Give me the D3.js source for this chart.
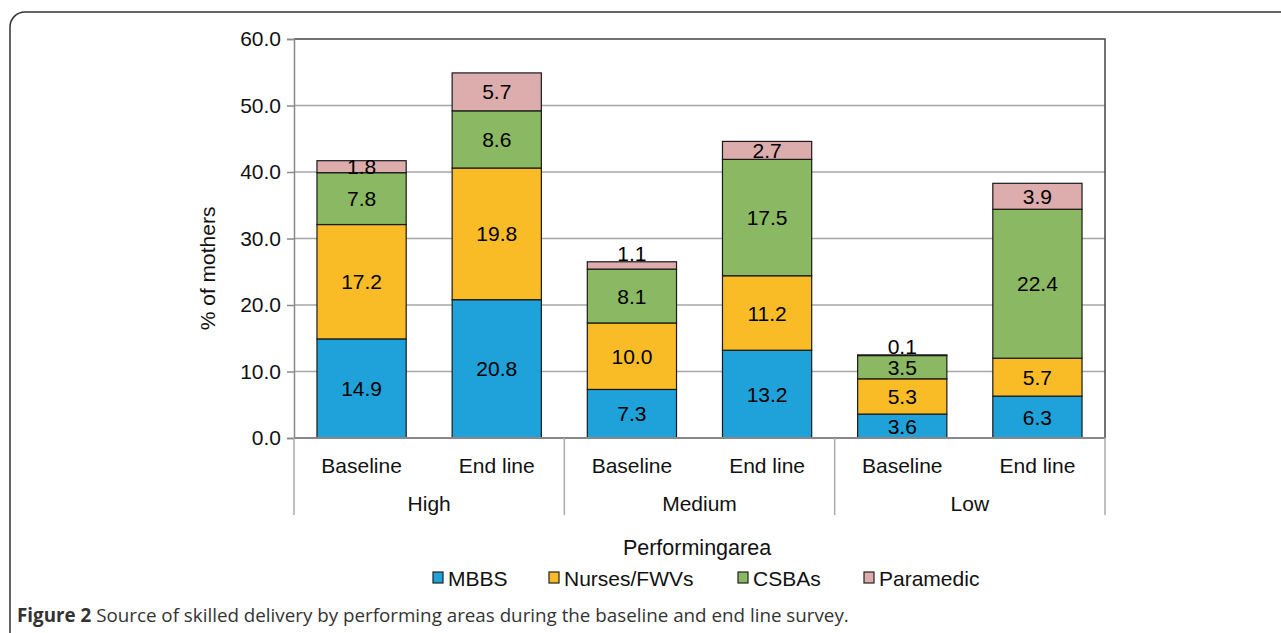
<!DOCTYPE html>
<html>
<head>
<meta charset="utf-8">
<script src="https://cdn.jsdelivr.net/npm/d3@7"></script>
<style>
  body { margin: 0; background: #fff; }
  svg { display: block; font-family: "Liberation Sans", Arial, sans-serif; }
</style>
</head>
<body>
<svg id="chart" width="1281" height="633"></svg>
<script>
"use strict"
// Data
var groups = ["High", "Medium", "Low"];
var surveys = ["Baseline", "End line"];
var seriesNames = ["MBBS", "Nurses/FWVs", "CSBAs", "Paramedic"];
var colors = ["#1fa1d9", "#f9bc26", "#8bb862", "#ddadad"];
var mbbs      = [14.9, 20.8, 7.3, 13.2, 3.6, 6.3];
var nurses    = [17.2, 19.8, 10.0, 11.2, 5.3, 5.7];
var csbas     = [7.8, 8.6, 8.1, 17.5, 3.5, 22.4];
var paramedic = [1.8, 5.7, 1.1, 2.7, 0.1, 3.9];
var yTicks = [0, 10, 20, 30, 40, 50, 60];

var margin = {top: 39, left: 294, right: 176, bottom: 195};
var width = 1281, height = 633;
var drawWidth = width - margin.left - margin.right;   // 811
var drawHeight = height - margin.top - margin.bottom; // 399
var fontSize = 21;

var svg = d3.select("#chart");

// rounded frame of the figure, running off the page to the right and bottom
svg.append("rect")
  .attr("x", 10).attr("y", 12)
  .attr("width", 1400).attr("height", 700)
  .attr("rx", 15)
  .attr("fill", "none")
  .attr("stroke", "#333")
  .attr("stroke-width", 1.5);

// build rows
var rows = [];
groups.forEach(function(g, gi) {
  surveys.forEach(function(s, si) {
    var i = gi * 2 + si;
    rows.push({key: g + "|" + s, group: g, survey: s,
      values: [mbbs[i], nurses[i], csbas[i], paramedic[i]]});
  });
});

var xScale = d3.scaleBand().domain(rows.map(function(d){return d.key})).range([0, drawWidth]).paddingInner(0.34).paddingOuter(0.17);
var groupScale = d3.scaleBand().domain(groups).range([0, drawWidth]);
var yScale = d3.scaleLinear().domain([0, 60]).range([drawHeight, 0]);

var g = svg.append("g").attr("transform", "translate(" + margin.left + "," + margin.top + ")");

// gridlines
g.append("g").selectAll("line").data(yTicks.slice(1, -1)).enter().append("line")
  .attr("x1", 0).attr("x2", drawWidth)
  .attr("y1", function(d){return yScale(d)}).attr("y2", function(d){return yScale(d)})
  .attr("stroke", "#a6a6a6").attr("stroke-width", 1.5);

// plot area border (top and right)
g.append("path")
  .attr("d", "M0," + yScale(60) + "H" + drawWidth + "V" + yScale(0))
  .attr("fill", "none").attr("stroke", "#444").attr("stroke-width", 1.5);

// y axis
var yAxis = d3.axisLeft(yScale).tickValues(yTicks).tickFormat(d3.format(".1f")).tickSize(7).tickPadding(6);
var ya = g.append("g").call(yAxis);
ya.select(".domain").attr("stroke", "#888").attr("stroke-width", 1.5);
ya.selectAll(".tick line").attr("stroke", "#888").attr("stroke-width", 1.5);
ya.selectAll(".tick text").attr("font-size", fontSize).attr("fill", "#111").attr("font-family", "Liberation Sans, Arial, sans-serif");

// stacked bars
var stackData = rows.map(function(r) {
  var o = {key: r.key};
  seriesNames.forEach(function(n, k){ o[n] = r.values[k]; });
  return o;
});
var stack = d3.stack().keys(seriesNames)(stackData);

var layers = g.append("g").selectAll("g").data(stack).enter().append("g")
  .attr("fill", function(d, i){return colors[i]});

layers.selectAll("rect").data(function(d){return d}).enter().append("rect")
  .attr("x", function(d){return xScale(d.data.key)})
  .attr("width", xScale.bandwidth())
  .attr("y", function(d){return yScale(d[1])})
  .attr("height", function(d){return yScale(d[0]) - yScale(d[1])})
  .attr("stroke", "#1a1a1a").attr("stroke-width", 1.2);

// value labels
layers.selectAll("text").data(function(d){return d}).enter().append("text")
  .attr("x", function(d){return xScale(d.data.key) + xScale.bandwidth() / 2})
  .attr("y", function(d){
    var h = yScale(d[0]) - yScale(d[1]);
    if (h < 10) return yScale(d[1]) - 1; // tiny segment: label sits on top of the bar
    return (yScale(d[0]) + yScale(d[1])) / 2;
  })
  .attr("dy", function(d){
    var h = yScale(d[0]) - yScale(d[1]);
    return h < 10 ? "0" : "0.36em";
  })
  .attr("text-anchor", "middle")
  .attr("font-size", fontSize)
  .attr("fill", "#000")
  .text(function(d){return d3.format(".1f")(d[1] - d[0])});

// bottom axis line
g.append("line").attr("x1", 0).attr("x2", drawWidth)
  .attr("y1", drawHeight).attr("y2", drawHeight)
  .attr("stroke", "#888").attr("stroke-width", 2);

// group separators
g.append("g").selectAll("line").data(groups.concat(["end"])).enter().append("line")
  .attr("x1", function(d, i){return i * groupScale.bandwidth()})
  .attr("x2", function(d, i){return i * groupScale.bandwidth()})
  .attr("y1", drawHeight).attr("y2", drawHeight + 77)
  .attr("stroke", "#aaa").attr("stroke-width", 1.5);

// survey labels
g.append("g").selectAll("text").data(rows).enter().append("text")
  .attr("x", function(d){return xScale(d.key) + xScale.bandwidth() / 2})
  .attr("y", drawHeight + 35)
  .attr("text-anchor", "middle").attr("font-size", fontSize).attr("fill", "#111")
  .text(function(d){return d.survey});

// group labels
g.append("g").selectAll("text").data(groups).enter().append("text")
  .attr("x", function(d){return groupScale(d) + groupScale.bandwidth() / 2})
  .attr("y", drawHeight + 73)
  .attr("text-anchor", "middle").attr("font-size", fontSize).attr("fill", "#111")
  .text(function(d){return d});

// y axis title
svg.append("text")
  .attr("transform", "translate(215," + (margin.top + drawHeight * 0.575) + ") rotate(-90)")
  .attr("text-anchor", "middle").attr("font-size", fontSize).attr("fill", "#111")
  .text("% of mothers");

// x axis title
svg.append("text")
  .attr("x", 697).attr("y", 555)
  .attr("text-anchor", "middle").attr("font-size", 21.5).attr("fill", "#111")
  .text("Performingarea");

// legend
var legendX = [433, 549, 738, 864];
var legend = svg.append("g").selectAll("g").data(seriesNames).enter().append("g")
  .attr("transform", function(d, i){return "translate(" + legendX[i] + ",572)"});
legend.append("rect").attr("width", 10).attr("height", 11)
  .attr("fill", function(d, i){return colors[i]})
  .attr("stroke", "#222").attr("stroke-width", 1.2);
legend.append("text").attr("x", 15).attr("y", 14)
  .attr("font-size", fontSize).attr("fill", "#111")
  .text(function(d){return d});

// caption
var cap = svg.append("text").attr("x", 17).attr("y", 622)
  .attr("font-family", "Open Sans, Noto Sans, sans-serif")
  .attr("font-size", 18.8).attr("fill", "#333");
cap.append("tspan").attr("font-weight", "bold").text("Figure 2");
cap.append("tspan").text(" Source of skilled delivery by performing areas during the baseline and end line survey.");
</script>
</body>
</html>
